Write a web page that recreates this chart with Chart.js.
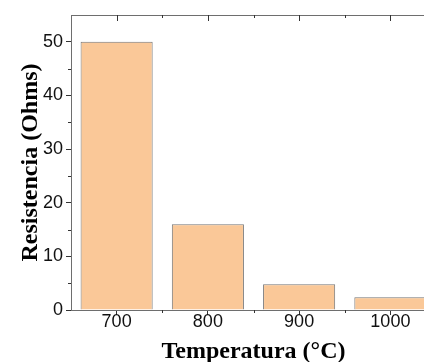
<!DOCTYPE html>
<html>
<head>
<meta charset="utf-8">
<script src="https://cdn.jsdelivr.net/npm/chart.js@4/dist/chart.umd.min.js"></script>
<style>
html, body { margin: 0; padding: 0; background: #fff; overflow: hidden; }
#wrap { width: 436px; height: 362px; }
</style>
</head>
<body>
<div id="wrap"><canvas id="report_chart" width="436" height="362"></canvas></div>
<script>
var temperatures = ['700', '800', '900', '1000'];
var resistance = [50, 16, 4.8, 2.4];
var yMinorTicks = [5, 15, 25, 35, 45];

var axisColor = '#6e6e6e';
var tickColor = '#333';

// minor ticks and top frame line, placed through the scales
var frameTicks = {
    id: 'frameTicks',
    afterDraw: function(chart) {
        var ctx = chart.ctx;
        var area = chart.chartArea;
        var x = chart.scales.x;
        var y = chart.scales.y;
        ctx.save();
        ctx.lineWidth = 1;
        ctx.strokeStyle = axisColor;
        ctx.beginPath();
        ctx.moveTo(area.left, area.top + 0.5);
        ctx.lineTo(chart.width, area.top + 0.5);
        ctx.stroke();

        ctx.strokeStyle = tickColor;
        ctx.beginPath();
        yMinorTicks.forEach(function(v) {
            var py = Math.round(y.getPixelForValue(v)) + 0.5;
            ctx.moveTo(area.left - 3, py);
            ctx.lineTo(area.left, py);
        });
        for (var i = 0; i < temperatures.length; i++) {
            var px = Math.round(x.getPixelForValue(i)) + 0.5;
            ctx.moveTo(px, area.top);
            ctx.lineTo(px, area.top + 6);
            if (i < temperatures.length - 1) {
                var mx = Math.round((x.getPixelForValue(i) + x.getPixelForValue(i + 1)) / 2) + 0.5;
                ctx.moveTo(mx, area.top);
                ctx.lineTo(mx, area.top + 3);
                ctx.moveTo(mx, area.bottom);
                ctx.lineTo(mx, area.bottom + 3);
            }
        }
        ctx.stroke();
        ctx.restore();
    }
};

var chart_canvas = document.getElementById('report_chart').getContext('2d');
var chart_object = new Chart(chart_canvas, {
    type: 'bar'
    ,data: {
        labels: temperatures
        ,datasets: [{
            data: resistance
            ,backgroundColor: '#fac898'
            ,borderColor: '#767676'
            ,borderWidth: 1
            ,barPercentage: 0.79
            ,categoryPercentage: 1
        }]
    }
    ,options: {
        responsive: false
        ,animation: false
        ,layout: { padding: { top: 15, left: 0, right: 0, bottom: 0 } }
        ,plugins: { legend: { display: false }, tooltip: { enabled: false } }
        ,scales: {
            x: {
                offset: true
                ,grid: { offset: false, drawOnChartArea: false, tickLength: 5, tickColor: tickColor }
                ,border: { color: axisColor }
                ,ticks: { color: '#111', padding: -4, font: { family: 'Liberation Sans', size: 18 } }
                ,title: {
                    display: true
                    ,text: 'Temperatura (°C)'
                    ,color: '#000'
                    ,font: { family: 'Liberation Serif', size: 24, weight: 'bold', lineHeight: 1 }
                    ,padding: { top: 0, bottom: -2 }
                }
                ,afterFit: function(scale) { scale.height = 52; }
            }
            ,y: {
                min: 0
                ,max: 55
                ,grid: { drawOnChartArea: false, tickLength: 5, tickColor: tickColor }
                ,border: { color: axisColor }
                ,ticks: { stepSize: 10, includeBounds: false, color: '#111', padding: 3, font: { family: 'Liberation Sans', size: 18 } }
                ,title: {
                    display: true
                    ,text: 'Resistencia (Ohms)'
                    ,color: '#000'
                    ,font: { family: 'Liberation Serif', size: 24, weight: 'bold', lineHeight: 1 }
                    ,padding: { top: 19, bottom: 0 }
                }
                ,afterFit: function(scale) { scale.width = 71; }
            }
        }
    }
    ,plugins: [frameTicks]
});
</script>
</body>
</html>
